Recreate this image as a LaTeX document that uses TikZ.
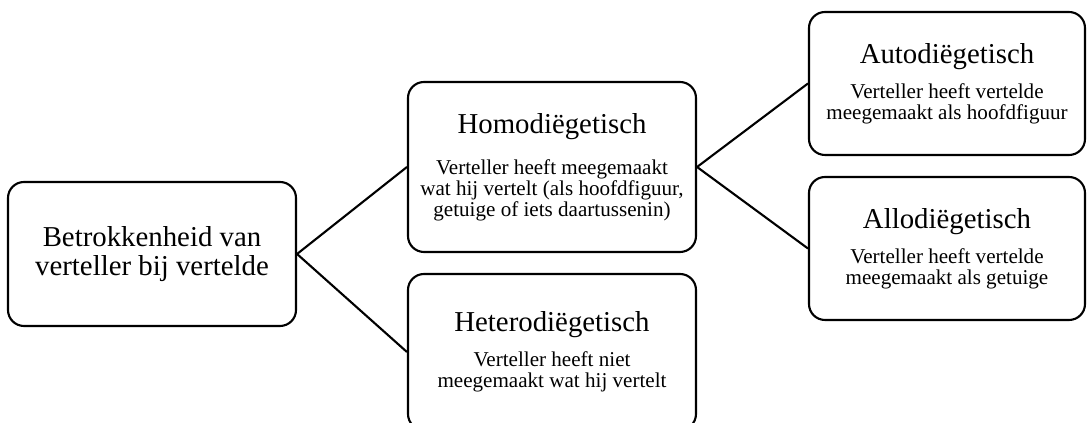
\documentclass[tikz,border=0pt]{standalone}
\usepackage{fontspec}
\setmainfont{Liberation Serif}
\usetikzlibrary{positioning}
\tikzset{
    box/.style={draw=black, rounded corners=0.4cm, line width=1.5pt,
        align=center, inner sep=0pt, font=\fontsize{15}{15}\selectfont},
    mainbox/.style={box, minimum width=7.2cm, minimum height=3.6cm,
        font=\fontsize{20.5}{20.6}\selectfont},
    midbox/.style={box, minimum width=7.2cm},
    sidebox/.style={box, minimum width=6.9cm, minimum height=3.575cm},
    link/.style={draw=black, line width=1.5pt},
}
\newcommand{\boxtitle}[1]{{\fontsize{20.5}{20.6}\selectfont #1}}

\begin{document}
\begin{tikzpicture}
\useasboundingbox (0cm,0cm) rectangle (27.175cm,10.575cm);
% links on the left
\node[mainbox] (betrokken) at (3.8cm,4.225cm) {Betrokkenheid van\\verteller bij vertelde};
\node[midbox, minimum height=4.25cm] (homo) at (13.8cm,6.4cm)
    {\boxtitle{Homodiëgetisch}\\[14pt]Verteller heeft meegemaakt\\wat hij vertelt (als hoofdfiguur,\\getuige of iets daartussenin)};
\node[midbox, minimum height=3.9cm] (hetero) at (13.8cm,1.775cm)
    {\boxtitle{Heterodiëgetisch}\\[10pt]Verteller heeft niet\\meegemaakt wat hij vertelt};
% rechts
\node[sidebox] (auto) at (23.675cm,8.4875cm)
    {\boxtitle{Autodiëgetisch}\\[10pt]Verteller heeft vertelde\\meegemaakt als hoofdfiguur};
\node[sidebox] (allo) at (23.675cm,4.3625cm)
    {\boxtitle{Allodiëgetisch}\\[10pt]Verteller heeft vertelde\\meegemaakt als getuige};
\draw[link] (betrokken.east) -- (homo.west);
\draw[link] (betrokken.east) -- (hetero.west);
\draw[link] (homo.east) -- (auto.west);
\draw[link] (homo.east) -- (allo.west);
\end{tikzpicture}
\end{document}
